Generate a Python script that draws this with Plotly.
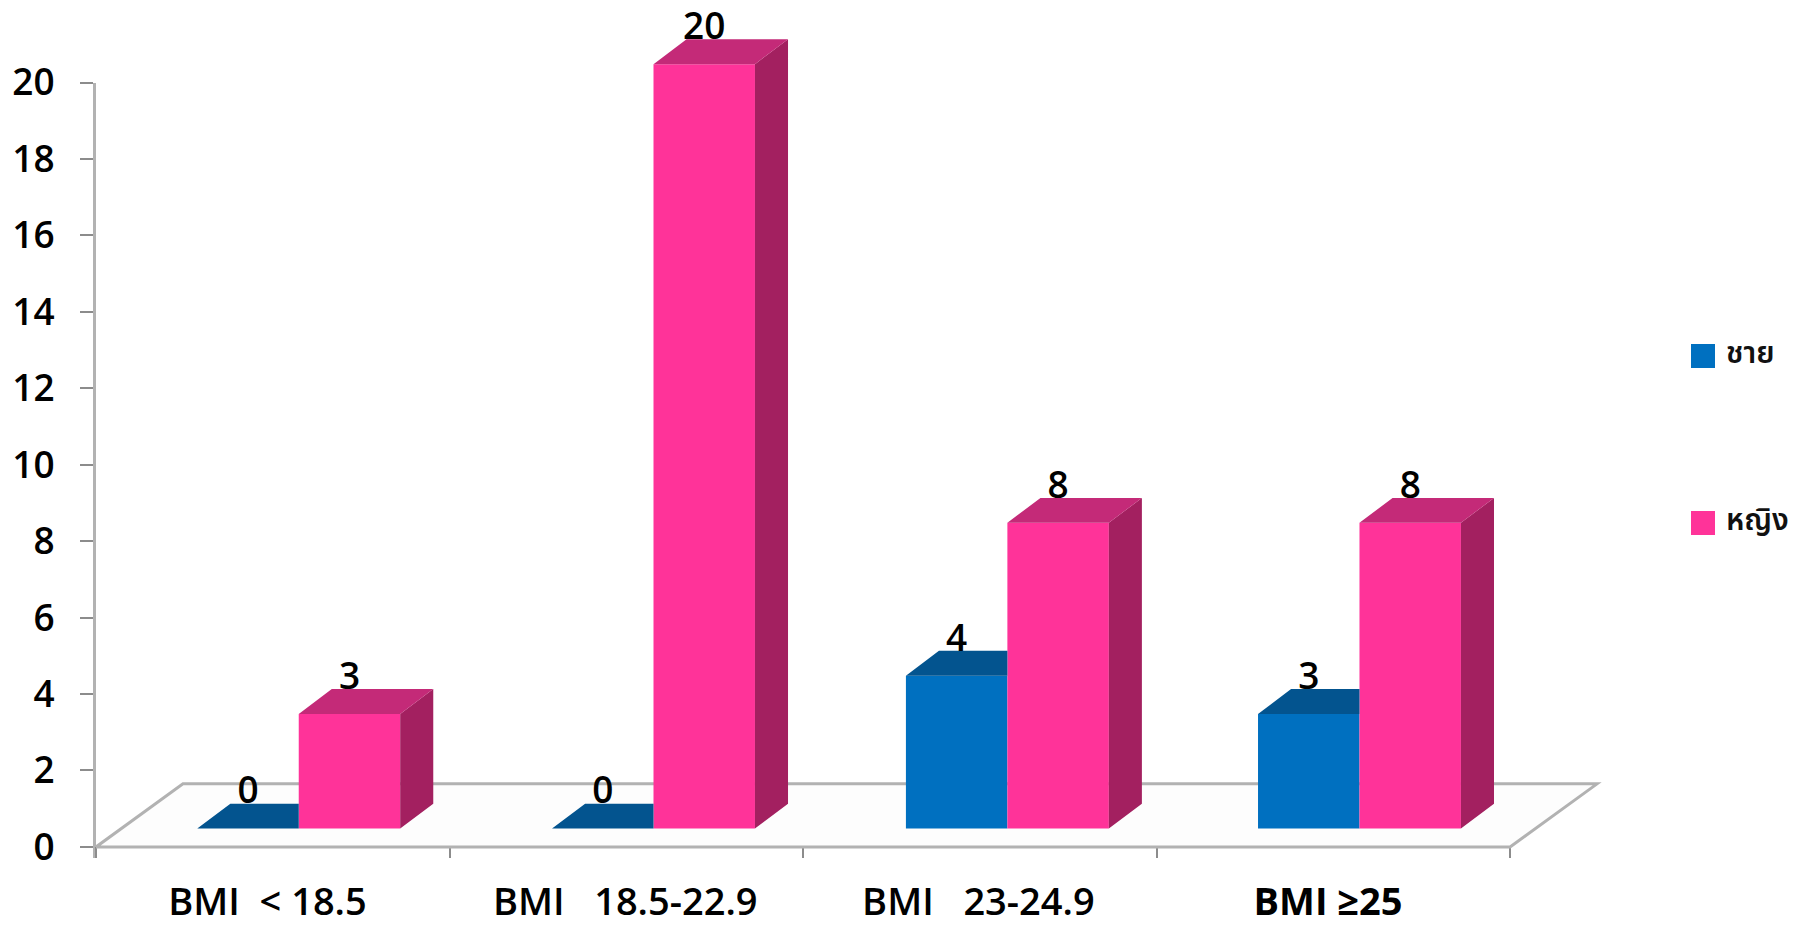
import plotly.graph_objects as go

# BMI groups and head counts by sex
categories = ["BMI\u00a0\u00a0< 18.5", "BMI\u00a0\u00a0\u00a018.5-22.9", "BMI\u00a0\u00a0\u00a023-24.9", "<b>BMI ≥25</b>"]
male_values = [0, 0, 4, 3]
female_values = [3, 20, 8, 8]
male_name = "ชาย"
female_name = "หญิง"
y_ticks = list(range(0, 21, 2))

# Pseudo-3D geometry, in axis units
BAR_W = 0.287
MALE_OFF = 0.293
FEMALE_OFF = 0.580
GROUP_SHIFT = [-0.0065, -0.003, -0.002, -0.006]
LABEL_SHIFT = [-0.015, -0.003, -0.004, -0.015]
BASE = 0.48
DX, DY = 0.0935, 0.65
FLOOR_DX, FLOOR_DY = 0.246, 1.65
LABEL_GAP = 0.9

BLUE, BLUE_TOP = "#0070C0", "#03548F"
PINK, PINK_TOP, PINK_SIDE = "#FF3399", "#C42A78", "#A32060"
AXIS = "#b2b2b2"
TICK = "#8c8c8c"
FONT = "Open Sans, sans-serif"

male_x = [i + s + MALE_OFF + BAR_W / 2 for i, s in enumerate(GROUP_SHIFT)]
female_x = [i + s + FEMALE_OFF + BAR_W / 2 for i, s in enumerate(GROUP_SHIFT)]


def polygons(faces):
    xs, ys = [], []
    for face in faces:
        xs += [p[0] for p in face] + [face[0][0], None]
        ys += [p[1] for p in face] + [face[0][1], None]
    return xs, ys


male_top, female_top, female_side = [], [], []
for cx, v in zip(male_x, male_values):
    x0, x1, t = cx - BAR_W / 2, cx + BAR_W / 2, BASE + v
    # the neighbouring taller bar hides the rest of this top face
    male_top.append([(x0, t), (x1, t), (x1, t + DY), (x0 + DX, t + DY)])
for cx, v in zip(female_x, female_values):
    x0, x1, t = cx - BAR_W / 2, cx + BAR_W / 2, BASE + v
    female_top.append([(x0, t), (x1, t), (x1 + DX, t + DY), (x0 + DX, t + DY)])
    female_side.append([(x1, BASE), (x1 + DX, BASE + DY), (x1 + DX, t + DY), (x1, t)])

# Marks live on y2, which runs to the top of the page so the tallest bar has room;
# the visible value axis (y) has the same scale but stops at 20.
fig = go.Figure()
fig.add_bar(x=male_x, y=male_values, base=BASE, width=BAR_W, name=male_name, yaxis="y2",
            marker=dict(color=BLUE, line_width=0))
fig.add_bar(x=female_x, y=female_values, base=BASE, width=BAR_W, name=female_name, yaxis="y2",
            marker=dict(color=PINK, line_width=0))

for faces, color in [(male_top, BLUE_TOP), (female_side, PINK_SIDE), (female_top, PINK_TOP)]:
    xs, ys = polygons(faces)
    fig.add_scatter(x=xs, y=ys, yaxis="y2", mode="lines", fill="toself", fillcolor=color,
                    line=dict(width=0, color=color), hoverinfo="skip")

# Value labels above each bar
fig.add_scatter(
    x=male_x + female_x,
    y=[BASE + v + LABEL_GAP for v in male_values + female_values],
    yaxis="y2",
    text=[str(v) for v in male_values + female_values],
    mode="text", textposition="middle center", cliponaxis=False,
    textfont=dict(family=FONT, size=37, weight=600, color="#000000"), hoverinfo="skip",
)

# Transparent trace that keeps the visible value axis in the subplot list
fig.add_scatter(x=[0], y=[0], yaxis="y", mode="markers", marker=dict(opacity=0),
                hoverinfo="skip")

n = len(categories)
floor_path = f"M0,0 L{n},0 L{n + FLOOR_DX},{FLOOR_DY} L{FLOOR_DX},{FLOOR_DY} Z"

LEFT, TOP_TICK, RIGHT, BOTTOM = 96, 82.5, 195, 71
PLOT_W, PLOT_H = 1797 - LEFT - RIGHT, 929 - BOTTOM
Y_LOW, Y_TOP = -0.29, 20
PX_PER_UNIT = (PLOT_H - TOP_TICK) / (Y_TOP - Y_LOW)


def px(x):
    return (x - LEFT) / PLOT_W


def py(y):
    return 1 - y / PLOT_H


legend_rows = [(male_name, BLUE, 356), (female_name, PINK, 523)]
legend_shapes = [
    dict(type="rect", xref="paper", yref="paper", x0=px(1691), x1=px(1715),
         y0=py(yc + 12), y1=py(yc - 12), fillcolor=c, line_width=0)
    for _, c, yc in legend_rows
]
legend_notes = [
    dict(text=name, xref="paper", yref="paper", x=px(1724), y=py(yc - 2),
         xanchor="left", yanchor="middle", showarrow=False,
         font=dict(family="Noto Sans Thai, Noto Sans, DejaVu Sans, sans-serif", size=30,
                   weight=600, color="#111111"))
    for name, _, yc in legend_rows
]

fig.update_layout(
    width=1797, height=929, autosize=False,
    margin=dict(l=LEFT, r=RIGHT, t=0, b=BOTTOM),
    paper_bgcolor="white", plot_bgcolor="rgba(0,0,0,0)",
    barmode="overlay", showlegend=False,
    shapes=[dict(type="path", path=floor_path, xref="x", yref="y2", layer="below",
                 fillcolor="#fdfdfd", line=dict(color=AXIS, width=3))] + legend_shapes,
    annotations=legend_notes,
    xaxis=dict(
        range=[0, n + 0.26], automargin=False, showgrid=False, zeroline=False, showline=False,
        anchor="y",
        tickmode="array", tickvals=[i + 0.5 + s for i, s in enumerate(LABEL_SHIFT)], ticktext=categories,
        ticks="", ticklabelstandoff=18,
        tickfont=dict(family=FONT, size=38, weight=600, color="#000000"),
        minor=dict(tickmode="array", tickvals=list(range(n + 1)), ticks="inside",
                   ticklen=11, tickwidth=1.5, tickcolor=TICK, showgrid=False),
    ),
    yaxis=dict(
        domain=[0, (PLOT_H - TOP_TICK) / PLOT_H], anchor="x",
        range=[Y_LOW, Y_TOP], automargin=False, showgrid=False, zeroline=False, showline=True,
        linecolor=AXIS, linewidth=3, ticks="outside", ticklen=13, tickwidth=2,
        tickcolor=TICK, tickmode="array", tickvals=y_ticks, ticklabelstandoff=18,
        tickfont=dict(family=FONT, size=37, weight=600, color="#000000"),
    ),
    yaxis2=dict(
        domain=[0, 1], anchor="x", range=[Y_LOW, Y_LOW + PLOT_H / PX_PER_UNIT],
        automargin=False, visible=False, showgrid=False, zeroline=False,
    ),
)

fig.write_html("out.html")
